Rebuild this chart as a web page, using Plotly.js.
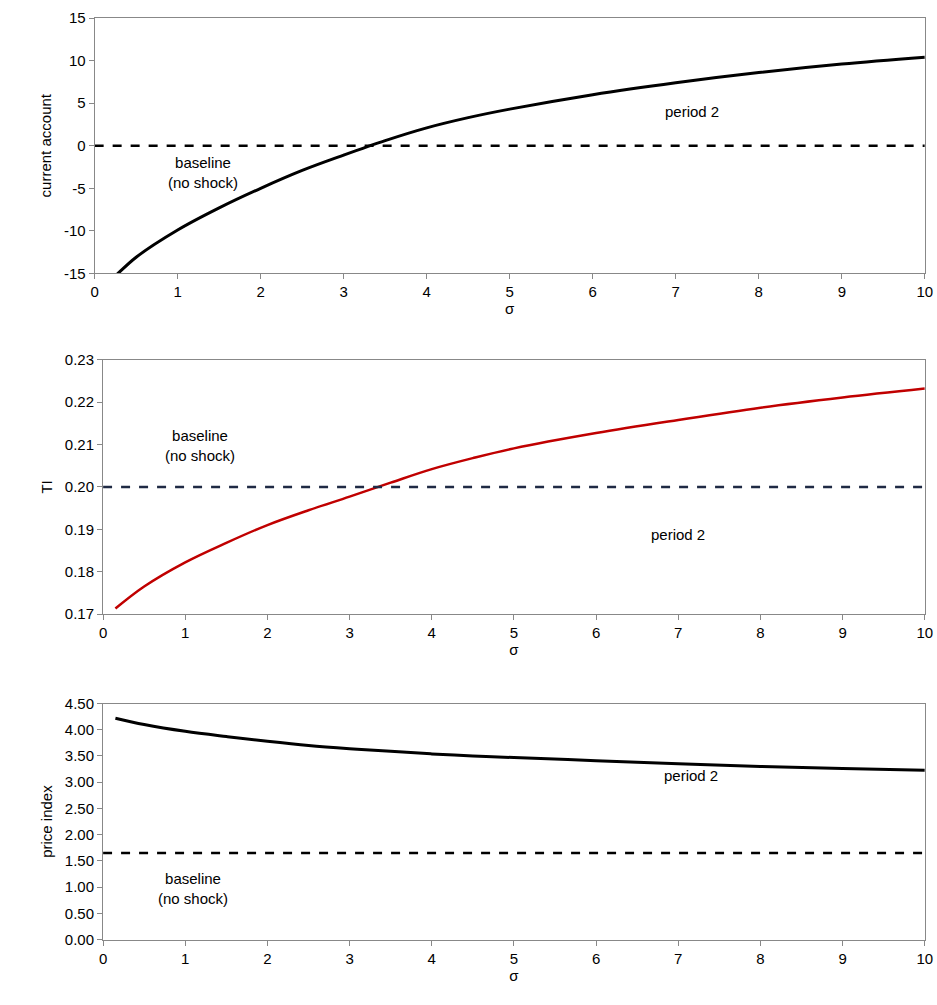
<html><head><script src="https://cdn.plot.ly/plotly-3.0.1.min.js"></script></head><body style="margin:0">
<div id="c" style="width:937px;height:1005px"></div>
<script>
const sigma1=[0.15,0.25,0.5,1,1.5,2,2.5,3,3.5,4,4.5,5,6,7,8,9,10];
const ca=[-16.2,-15.3,-13.1,-9.9,-7.3,-5.0,-2.9,-1.1,0.6,2.1,3.3,4.3,6.0,7.4,8.6,9.6,10.4];
const sigma=[0.15,0.5,1,1.5,2,2.5,3,3.5,4,4.5,5,6,7,8,9,10];
const ti=[0.1713,0.1765,0.1822,0.1868,0.1910,0.1945,0.1977,0.2010,0.2042,0.2068,0.2091,0.2127,0.2158,0.2187,0.2211,0.2232];
const price=[4.22,4.10,3.97,3.87,3.78,3.70,3.64,3.59,3.54,3.50,3.47,3.41,3.35,3.30,3.26,3.23];
const caTicks=[-15,-10,-5,0,5,10,15];
const caTickText=["-15","-10","-5","0","5","10","15"];
const caBase=0, tiBase=0.20, priceBase=1.65;
const F={family:"Liberation Sans, Arial",size:15,color:"#000"};
function ax(dom,extra){return Object.assign({domain:dom,showline:true,mirror:true,linecolor:"#888",showgrid:false,zeroline:false,ticks:"outside",ticklen:5,tickcolor:"#888",tickfont:F},extra);}
const data=[
{x:sigma1,y:ca,mode:"lines",line:{color:"#000",width:3,shape:"spline"},xaxis:"x",yaxis:"y"},
{x:[0,10],y:[caBase,caBase],mode:"lines",line:{color:"#000",width:2.5,dash:"dash"},xaxis:"x",yaxis:"y"},
{x:sigma,y:ti,mode:"lines",line:{color:"#c00000",width:2.5,shape:"spline"},xaxis:"x2",yaxis:"y2"},
{x:[0,10],y:[tiBase,tiBase],mode:"lines",line:{color:"#1f2a44",width:2.5,dash:"dash"},xaxis:"x2",yaxis:"y2"},
{x:sigma,y:price,mode:"lines",line:{color:"#000",width:3,shape:"spline"},xaxis:"x3",yaxis:"y3"},
{x:[0,10],y:[priceBase,priceBase],mode:"lines",line:{color:"#000",width:2.5,dash:"dash"},xaxis:"x3",yaxis:"y3"}
];
const layout={width:937,height:1005,margin:{l:0,r:0,t:0,b:0},showlegend:false,paper_bgcolor:"#fff",plot_bgcolor:"#fff",font:F,
xaxis:ax([0.101,0.987],{range:[0,10],dtick:1,anchor:"y",title:{text:"σ",font:F,standoff:2}}),
yaxis:ax([0.728,0.982],{range:[-15,15],tickvals:caTicks,ticktext:caTickText,anchor:"x",title:{text:"current account",font:F,standoff:8}}),
xaxis2:ax([0.110,0.987],{range:[0,10],dtick:1,anchor:"y2",title:{text:"σ",font:F,standoff:2}}),
yaxis2:ax([0.389,0.642],{range:[0.17,0.23],dtick:0.01,tickformat:".2f",anchor:"x2",title:{text:"TI",font:F,standoff:8}}),
xaxis3:ax([0.110,0.987],{range:[0,10],dtick:1,anchor:"y3",title:{text:"σ",font:F,standoff:2}}),
yaxis3:ax([0.065,0.300],{range:[0,4.5],dtick:0.5,tickformat:".2f",anchor:"x3",title:{text:"price index",font:F,standoff:8}}),
annotations:[
{xref:"x",yref:"y",x:7.2,y:4.0,text:"period 2",showarrow:false,font:F},
{xref:"x",yref:"y",x:1.3,y:-3.1,text:"baseline<br>(no shock)",showarrow:false,font:F},
{xref:"x2",yref:"y2",x:1.18,y:0.2097,text:"baseline<br>(no shock)",showarrow:false,font:F},
{xref:"x2",yref:"y2",x:7.0,y:0.1888,text:"period 2",showarrow:false,font:F},
{xref:"x3",yref:"y3",x:7.15,y:3.12,text:"period 2",showarrow:false,font:F},
{xref:"x3",yref:"y3",x:1.1,y:0.97,text:"baseline<br>(no shock)",showarrow:false,font:F}
]};
Plotly.newPlot("c",data,layout,{displayModeBar:false});
</script></body></html>
